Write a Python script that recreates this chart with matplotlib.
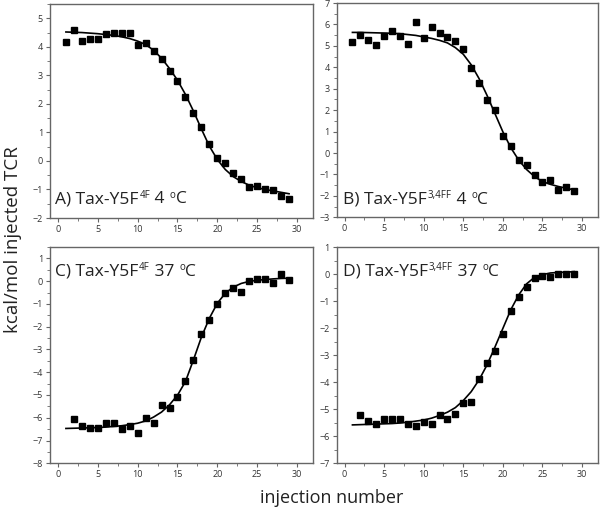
import numpy as np
import matplotlib
matplotlib.use("Agg")
from matplotlib import pyplot as plt
from matplotlib.ticker import MultipleLocator

plt.rcParams['font.family'] = ['Open Sans', 'DejaVu Sans']

# injection numbers
inj_a = np.arange(1, 30)
inj_c = np.arange(2, 30)
fit_x = np.arange(1, 30)

# A) Tax-Y5F4F 4 C
pts_a = [4.17, 4.59, 4.22, 4.27, 4.29, 4.45, 4.50, 4.47, 4.47, 4.05, 4.14, 3.87, 3.59, 3.16,
         2.80, 2.24, 1.69, 1.20, 0.58, 0.09, -0.08, -0.41, -0.63, -0.92, -0.89, -0.99, -1.02,
         -1.24, -1.34]
fit_a = [4.52, 4.51, 4.50, 4.48, 4.46, 4.43, 4.40, 4.35, 4.29, 4.20, 4.08, 3.88, 3.60, 3.24,
         2.83, 2.33, 1.75, 1.12, 0.52, 0.05, -0.30, -0.55, -0.72, -0.85, -0.94, -1.00, -1.05,
         -1.10, -1.15]

# B) Tax-Y5F3,4FF 4 C
pts_b = [5.19, 5.53, 5.26, 5.06, 5.45, 5.71, 5.45, 5.08, 6.11, 5.39, 5.87, 5.60, 5.43, 5.22,
         4.86, 3.96, 3.28, 2.49, 2.01, 0.80, 0.31, -0.33, -0.54, -1.01, -1.35, -1.24, -1.73,
         -1.58, -1.78]
fit_b = [5.63, 5.63, 5.62, 5.61, 5.60, 5.59, 5.57, 5.53, 5.49, 5.42, 5.35, 5.26, 5.14, 4.92,
         4.61, 4.12, 3.47, 2.69, 1.84, 0.99, 0.25, -0.33, -0.77, -1.10, -1.33, -1.46, -1.56,
         -1.64, -1.72]

# C) Tax-Y5F4F 37 C
pts_c = [-6.05, -6.35, -6.47, -6.43, -6.21, -6.25, -6.49, -6.34, -6.68, -6.03, -6.21, -5.46,
         -5.59, -5.10, -4.38, -3.46, -2.34, -1.70, -1.00, -0.53, -0.28, -0.48, 0.01, 0.10,
         0.10, -0.06, 0.32, 0.04]
fit_c = [-6.47, -6.46, -6.45, -6.44, -6.43, -6.41, -6.38, -6.35, -6.30, -6.24, -6.14, -5.97,
         -5.75, -5.43, -5.01, -4.41, -3.46, -2.46, -1.63, -0.97, -0.53, -0.26, -0.10, -0.01,
         0.04, 0.07, 0.10, 0.12, 0.13]

# D) Tax-Y5F3,4FF 37 C
pts_d = [-5.21, -5.42, -5.53, -5.35, -5.38, -5.38, -5.56, -5.62, -5.47, -5.54, -5.20, -5.37,
         -5.16, -4.78, -4.75, -3.88, -3.30, -2.83, -2.23, -1.37, -0.84, -0.49, -0.14, -0.06,
         -0.11, 0.00, 0.01, 0.01]
fit_d = [-5.58, -5.57, -5.56, -5.55, -5.54, -5.53, -5.51, -5.48, -5.44, -5.40, -5.33, -5.23,
         -5.11, -4.94, -4.68, -4.35, -3.91, -3.36, -2.70, -2.01, -1.32, -0.77, -0.36, -0.12,
         -0.02, 0.04, 0.06, 0.07, 0.09]

# panel titles as (text, superscript?) pieces
labels = [[("A) Tax-Y5F", False), ("4F", True), (" 4 ", False), ("o", True), ("C", False)],
          [("B) Tax-Y5F", False), ("3,4FF", True), (" 4 ", False), ("o", True), ("C", False)],
          [("C) Tax-Y5F", False), ("4F", True), (" 37 ", False), ("o", True), ("C", False)],
          [("D) Tax-Y5F", False), ("3,4FF", True), (" 37 ", False), ("o", True), ("C", False)]]

panels = [
    (inj_a, pts_a, fit_a, (-2, 5.5), [0.0833, 0.5717, 0.4383, 0.4204], (0.02, 0.068)),
    (inj_a, pts_b, fit_b, (-3, 7), [0.561, 0.573, 0.4355, 0.421], (0.025, 0.064)),
    (inj_c, pts_c, fit_c, (-8, 1.5), [0.0833, 0.0898, 0.4383, 0.4249], (0.02, 0.866)),
    (inj_c, pts_d, fit_d, (-7, 1), [0.561, 0.0898, 0.4355, 0.4249], (0.025, 0.866)),
]

fig = plt.figure(figsize=(6, 5.09), dpi=100)
spine_col = '#666666'
txt_col = '#222222'
sup_dy = 5


def panel_label(ax, pos, parts):
    t = ax.text(pos[0], pos[1], parts[0][0], transform=ax.transAxes, fontsize=12.5,
                color=txt_col, va='baseline')
    prev_sup = False
    for s, sup in parts[1:]:
        if sup:
            t = ax.annotate(s, xy=(1, 0), xycoords=t, xytext=(0.5, sup_dy), textcoords='offset points',
                            fontsize=7, color=txt_col, va='bottom')
        else:
            dy = -sup_dy if prev_sup else 0
            t = ax.annotate(s, xy=(1, 0), xycoords=t, xytext=(0, dy), textcoords='offset points',
                            fontsize=12.5, color=txt_col, va='bottom')
        prev_sup = sup


for i, (x, pts, fit, ylim, pos, tpos) in enumerate(panels):
    ax = fig.add_axes(pos)
    ax.plot(fit_x, fit, color='black', lw=1.2, zorder=2)
    ax.plot(x, pts, 's', color='black', ms=4.2, zorder=3)
    ax.set_xlim(-1, 32)
    ax.set_ylim(*ylim)
    ax.xaxis.set_major_locator(MultipleLocator(5))
    ax.xaxis.set_minor_locator(MultipleLocator(2.5))
    ax.yaxis.set_major_locator(MultipleLocator(1))
    ax.yaxis.set_minor_locator(MultipleLocator(0.5))
    ax.tick_params(which='major', direction='out', length=3, width=0.8, color=spine_col,
                   labelsize=6.5, labelcolor='#333333', pad=2)
    ax.tick_params(which='minor', direction='out', length=2, width=0.6, color=spine_col)
    for s in ax.spines.values():
        s.set_color(spine_col)
        s.set_linewidth(1.0)
    panel_label(ax, tpos, labels[i])

fig.text(0.022, 0.53, 'kcal/mol injected TCR', rotation=90, fontsize=13.5,
         va='center', ha='center', color=txt_col)
fig.text(0.5525, 0.022, 'injection number', fontsize=13, ha='center', va='center',
         color=txt_col)

fig.savefig('out.png', dpi=100)
